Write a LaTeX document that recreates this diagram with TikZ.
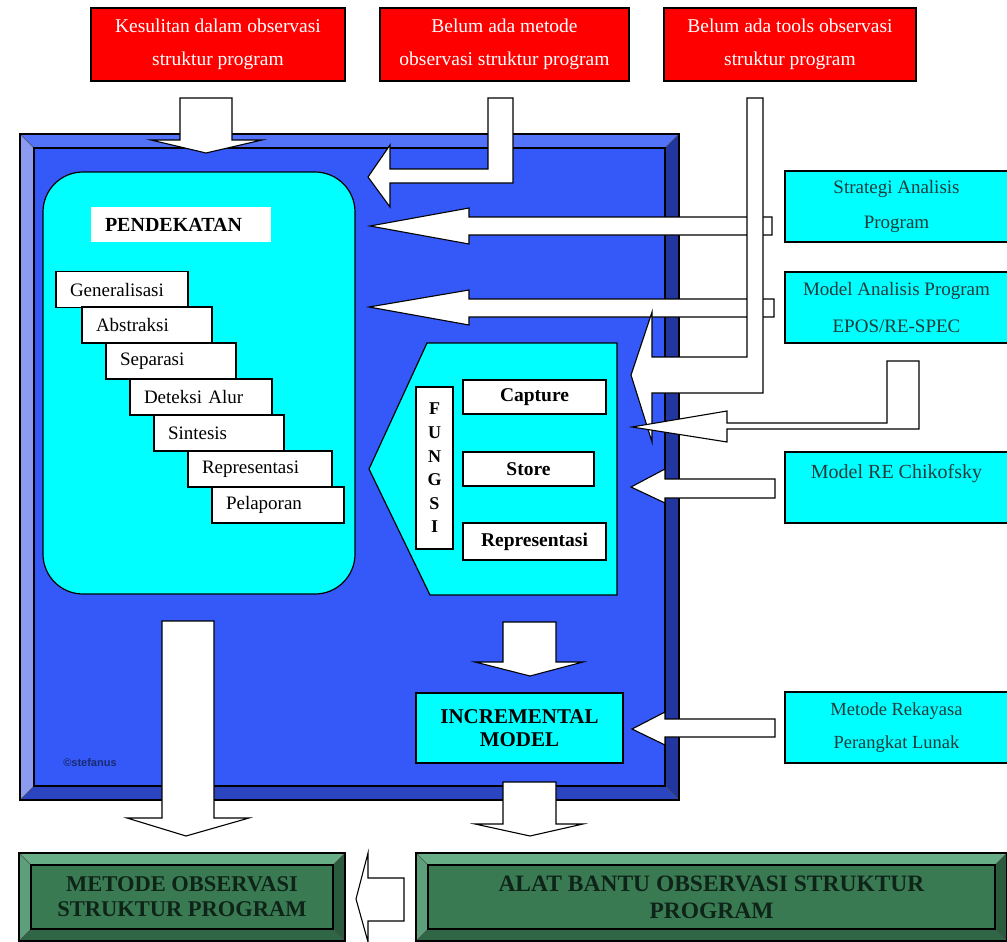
\documentclass[tikz,border=0pt]{standalone}
\usepackage{fontspec}
\setmainfont{Liberation Serif}
\newfontfamily\sansf{Liberation Sans}
\definecolor{myred}{HTML}{FF0000}
\definecolor{mycyan}{HTML}{00FFFF}
\definecolor{bface}{HTML}{3558F8}
\definecolor{btop}{HTML}{5272F8}
\definecolor{bleft}{HTML}{8C9AF0}
\definecolor{bright}{HTML}{2236A0}
\definecolor{bbot}{HTML}{2B45C0}
\definecolor{gface}{HTML}{3A7A53}
\definecolor{gtop}{HTML}{67AD86}
\definecolor{gleft}{HTML}{5E9F7B}
\definecolor{gright}{HTML}{2A5B3D}
\definecolor{gbot}{HTML}{2F6646}
\definecolor{cytext}{HTML}{1E3C3C}
\definecolor{gtext}{HTML}{0E2418}
\definecolor{copyc}{HTML}{1A2B70}
\newcommand\mybevel[9]{%
 \fill[#6] (#1,#2) -- (#3,#2) -- (#3-#5,#2+#5) -- (#1+#5,#2+#5) -- cycle;
 \fill[#7] (#1,#2) -- (#1+#5,#2+#5) -- (#1+#5,#4-#5) -- (#1,#4) -- cycle;
 \fill[#8] (#3,#2) -- (#3,#4) -- (#3-#5,#4-#5) -- (#3-#5,#2+#5) -- cycle;
 \fill[#9] (#1,#4) -- (#3,#4) -- (#3-#5,#4-#5) -- (#1+#5,#4-#5) -- cycle;
 \draw[line width=0.5pt,black!70] (#1,#2) -- (#1+#5,#2+#5) (#3,#2) -- (#3-#5,#2+#5)
   (#1,#4) -- (#1+#5,#4-#5) (#3,#4) -- (#3-#5,#4-#5);
 \draw[outl] (#1,#2) rectangle (#3,#4);}
\begin{document}
\begin{tikzpicture}[x=1pt,y=-1pt,
  outl/.style={draw=black,line width=1.2pt},
  boxbase/.style={outl,inner sep=0pt,outer sep=0pt,align=center},
  redbox/.style={boxbase,fill=myred,text=white,minimum height=73pt,font=\fontsize{19.5}{33}\selectfont},
  cybox/.style={boxbase,fill=mycyan,text=cytext,font=\fontsize{19}{35}\selectfont},
  rbox/.style={cybox,minimum width=223pt,minimum height=71pt},
  stepbox/.style={boxbase,fill=white,minimum height=36pt,align=left,font=\fontsize{19}{22}\selectfont},
  fnbox/.style={boxbase,fill=white,font=\bfseries\fontsize{19.5}{22}\selectfont},
  blockarrow/.style={draw=black,line width=1.1pt,fill=white,line join=miter},
  greenface/.style={boxbase,fill=gface,text=gtext,font=\bfseries\fontsize{22.5}{25}\selectfont},
]
\useasboundingbox (0,0) rectangle (1007,942);
\clip (0,0) rectangle (1007,942);
\fill[white] (0,0) rectangle (1007,942);

% red problem boxes
\node[redbox, minimum width=254pt] (r1) at (218,44.5) {Kesulitan dalam observasi\\struktur program};
\node[redbox, minimum width=249pt] (r2) at (504.5,44.5) {Belum ada metode\\observasi struktur program};
\node[redbox, minimum width=252pt] (r3) at (790,44.5) {Belum ada tools observasi\\struktur program};

% big blue frame
\mybevel{20}{134}{679}{800}{14}{btop}{bleft}{bright}{bbot}
\node[boxbase, fill=bface, minimum width=631pt, minimum height=638pt] (blue) at (349.5,467) {};

% PENDEKATAN
\node[boxbase, fill=mycyan, rounded corners=40pt, minimum width=312pt, minimum height=422pt] (pend) at (199,383) {};
\node[boxbase, draw=none, fill=white, minimum width=180pt, minimum height=35pt, text width=152pt, align=left,
      font=\bfseries\fontsize{20}{22}\selectfont] (pendlbl) at (181,224.5) {PENDEKATAN};
\node[stepbox, minimum width=132pt, text width=104pt] (s1) at (122,289.5) {Generalisasi};
\node[stepbox, minimum width=130pt, text width=102pt] (s2) at (147,325) {Abstraksi};
\node[stepbox, minimum width=130pt, text width=102pt] (s3) at (171,361) {Separasi};
\node[stepbox, minimum width=142pt, text width=114pt] (s4) at (201,397) {Deteksi Alur};
\node[stepbox, minimum width=130pt, text width=102pt] (s5) at (219,433) {Sintesis};
\node[stepbox, minimum width=144pt, text width=116pt] (s6) at (260,469) {Representasi};
\node[stepbox, minimum width=132pt, text width=104pt] (s7) at (278,505) {Pelaporan};

% FUNGSI
\draw[outl, fill=mycyan] (427,343) -- (617,343) -- (617,595) -- (430,595) -- (369,469) -- cycle;
\node[fnbox, font=\bfseries\fontsize{18}{23.6}\selectfont, minimum width=37pt, minimum height=162pt] (fungsi) at (434.5,468) {F\\U\\N\\G\\S\\I};
\node[fnbox, minimum width=143pt, minimum height=34pt] (capture) at (534.5,397) {Capture};
\node[fnbox, minimum width=131pt, minimum height=34pt] (store) at (528.5,469) {Store};
\node[fnbox, minimum width=143pt, minimum height=37pt] (repr) at (534.5,541.5) {Representasi};

% INCREMENTAL MODEL
\node[cybox, text=black, font=\bfseries\fontsize{21}{23}\selectfont, minimum width=207pt, minimum height=70pt] (incr) at (519.5,728) {INCREMENTAL\\MODEL};

\node[font=\sansf\bfseries\fontsize{11}{12}\selectfont, text=copyc, inner sep=0pt] (copy) at (90,763) {©stefanus};

% right-hand boxes
\node[rbox] (strat) at (896.5,206.5) {Strategi Analisis\\Program};
\node[rbox, font=\fontsize{19}{37}\selectfont] (epos) at (896.5,307.5) {Model Analisis Program\\EPOS/RE-SPEC};
\node[rbox] (chik) at (896.5,487.5) {};
\node[anchor=base, text=cytext, font=\fontsize{20}{22}\selectfont, inner sep=0pt] (chiktxt) at (896.5,478) {Model RE Chikofsky};
\node[rbox, font=\fontsize{18.5}{33}\selectfont] (rpl) at (896.5,727.5) {Metode Rekayasa\\Perangkat Lunak};

% block arrows
\draw[blockarrow] (180,98) -- (232,98) -- (232,140) -- (262,140) -- (206,153) -- (151,140) -- (180,140) -- cycle;
\draw[blockarrow] (488,98) -- (513,98) -- (513,183) -- (390,183) -- (390,207) -- (368,177) -- (390,145) -- (390,169) -- (488,169) -- cycle;
\draw[blockarrow] (772,217) -- (469,217) -- (469,208) -- (370,226) -- (469,244) -- (469,235) -- (772,235) -- cycle;
\draw[blockarrow] (774,299) -- (469,299) -- (469,290) -- (369,307) -- (469,325) -- (469,317) -- (774,317) -- cycle;
\draw[blockarrow] (747,98) -- (763,98) -- (763,393) -- (652,393) -- (652,442) -- (631,375) -- (652,312) -- (652,357) -- (747,357) -- cycle;
\draw[blockarrow] (919,361) -- (887,361) -- (887,423) -- (727,423) -- (727,411) -- (632,427) -- (727,442) -- (727,429) -- (919,429) -- cycle;
\draw[blockarrow] (775,479) -- (665,479) -- (665,469) -- (631,487) -- (665,503) -- (665,498) -- (775,498) -- cycle;
\draw[blockarrow] (503,622) -- (556,622) -- (556,662) -- (583,662) -- (530,676) -- (475,662) -- (503,662) -- cycle;
\draw[blockarrow] (775,719) -- (665,719) -- (665,712) -- (632,729) -- (665,745) -- (665,737) -- (775,737) -- cycle;
\draw[blockarrow] (503,782) -- (556,782) -- (556,824) -- (583,824) -- (530,836) -- (475,824) -- (503,824) -- cycle;
\draw[blockarrow] (162,621) -- (214,621) -- (214,818) -- (249,818) -- (186,836) -- (127,818) -- (162,818) -- cycle;

% green result boxes
\mybevel{19}{853}{345}{941}{12}{gtop}{gleft}{gright}{gbot}
\node[greenface, minimum width=302pt, minimum height=64pt] (metode) at (182,897) {METODE OBSERVASI\\STRUKTUR PROGRAM};
\mybevel{416}{853}{1007}{941}{12}{gtop}{gleft}{gright}{gbot}
\node[greenface, font=\bfseries\fontsize{23.5}{27}\selectfont, minimum width=567pt, minimum height=64pt] (alat) at (711.5,897) {ALAT BANTU OBSERVASI STRUKTUR\\PROGRAM};
\draw[blockarrow] (404,878) -- (368,878) -- (368,853) -- (356,899) -- (368,942) -- (368,921) -- (404,921) -- cycle;
\end{tikzpicture}
\end{document}
